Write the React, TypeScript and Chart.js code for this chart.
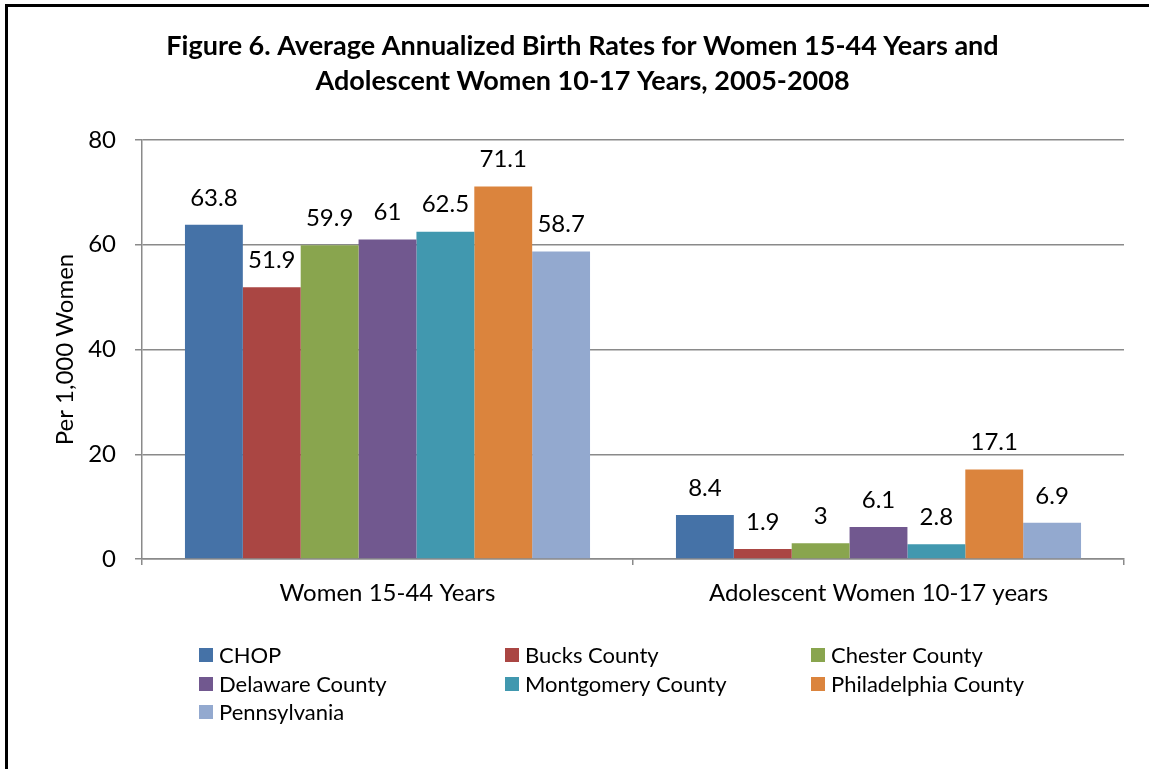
import React, { useEffect, useRef } from "react";
import { Chart, registerables } from "chart.js";

Chart.register(...registerables);

const categories = ["Women 15-44 Years", "Adolescent Women 10-17 years"];
const seriesNames = [
  "CHOP",
  "Bucks County",
  "Chester County",
  "Delaware County",
  "Montgomery County",
  "Philadelphia County",
  "Pennsylvania",
];
const chop = [63.8, 8.4];
const bucks = [51.9, 1.9];
const chester = [59.9, 3];
const delaware = [61, 6.1];
const montgomery = [62.5, 2.8];
const philadelphia = [71.1, 17.1];
const pennsylvania = [58.7, 6.9];
const seriesValues = [chop, bucks, chester, delaware, montgomery, philadelphia, pennsylvania];
const seriesColors = ["#4572A7", "#AA4643", "#89A54E", "#71588F", "#4198AF", "#DB843D", "#93A9CF"];
const yMin = 0;
const yMax = 80;
const yStep = 20;
const titleLines = [
  "Figure 6. Average Annualized Birth Rates for Women 15-44 Years and",
  "Adolescent Women 10-17 Years, 2005-2008",
];
const yAxisTitle = "Per 1,000 Women";

const FONT = "Lato";
const GRID = "#8a8a8a";

const valueLabels = {
  id: "valueLabels",
  afterDatasetsDraw(chart: any) {
    const ctx = chart.ctx;
    ctx.save();
    ctx.font = `24px ${FONT}`;
    ctx.fillStyle = "#000";
    ctx.textAlign = "center";
    ctx.textBaseline = "middle";
    chart.data.datasets.forEach((ds: any, di: number) => {
      const meta = chart.getDatasetMeta(di);
      meta.data.forEach((el: any, i: number) => {
        ctx.fillText(String(ds.data[i]), el.x, el.y - 27);
      });
    });
    ctx.restore();
  },
};

const legendCols = [199, 505, 811];
const legendRows = [655, 684, 712];

const customLegend = {
  id: "customLegend",
  afterDraw(chart: any) {
    const ctx = chart.ctx;
    ctx.save();
    ctx.font = `22px ${FONT}`;
    ctx.textAlign = "left";
    ctx.textBaseline = "middle";
    chart.data.datasets.forEach((ds: any, i: number) => {
      const x = legendCols[i % 3];
      const y = legendRows[Math.floor(i / 3)];
      ctx.fillStyle = ds.backgroundColor;
      ctx.fillRect(x, y - 7, 14, 14);
      ctx.fillStyle = "#000";
      ctx.fillText(ds.label, x + 20, y + 1);
    });
    ctx.restore();
  },
};

export default function App() {
  const ref = useRef<HTMLCanvasElement | null>(null);
  useEffect(() => {
    if (!ref.current) return;
    const chart = new Chart(ref.current, {
      type: "bar",
      data: {
        labels: categories,
        datasets: seriesNames.map((name, i) => ({
          label: name,
          data: seriesValues[i],
          backgroundColor: seriesColors[i],
          borderWidth: 0,
          categoryPercentage: 0.825,
          barPercentage: 1,
        })),
      },
      options: {
        responsive: false,
        animation: false,
        layout: { padding: { left: 41, right: 25, top: 0, bottom: 0 } },
        plugins: {
          legend: { display: false },
          tooltip: { enabled: false },
          title: {
            display: true,
            text: titleLines,
            color: "#000",
            font: { family: FONT, size: 27, weight: "bold", lineHeight: 1.3 },
            padding: { top: 29, bottom: 40.8 },
          },
        },
        scales: {
          x: {
            grid: {
              display: true,
              drawOnChartArea: false,
              drawTicks: true,
              tickLength: 6,
              color: GRID,
              lineWidth: 1.5,
              offset: true,
            },
            border: { display: true, color: GRID, width: 1.5 },
            ticks: { color: "#000", padding: 13.6, font: { family: FONT, size: 24 } },
            afterFit(scale: any) {
              scale.height = 210;
            },
          },
          y: {
            min: yMin,
            max: yMax,
            ticks: { stepSize: yStep, color: "#000", padding: 19, font: { family: FONT, size: 24 } },
            grid: { color: GRID, lineWidth: 1.5, tickLength: 7, drawTicks: true },
            border: { display: true, color: GRID, width: 1.5 },
            title: {
              display: true,
              text: yAxisTitle,
              color: "#000",
              font: { family: FONT, size: 24 },
              padding: { top: 9.6, bottom: 0 },
            },
            afterFit(scale: any) {
              scale.width = 101;
            },
          },
        },
      },
      plugins: [valueLabels, customLegend],
    });
    return () => chart.destroy();
  }, []);

  return (
    <div
      style={{
        position: "fixed",
        left: 0,
        top: 0,
        width: 1149,
        height: 769,
        overflow: "hidden",
        background: "#fff",
      }}
    >
      <canvas ref={ref} width={1149} height={769} style={{ position: "absolute", left: 0, top: 0 }} />
      <div
        style={{
          position: "absolute",
          left: 5,
          top: 4,
          width: 1300,
          height: 900,
          border: "3px solid #000",
          pointerEvents: "none",
        }}
      />
    </div>
  );
}
